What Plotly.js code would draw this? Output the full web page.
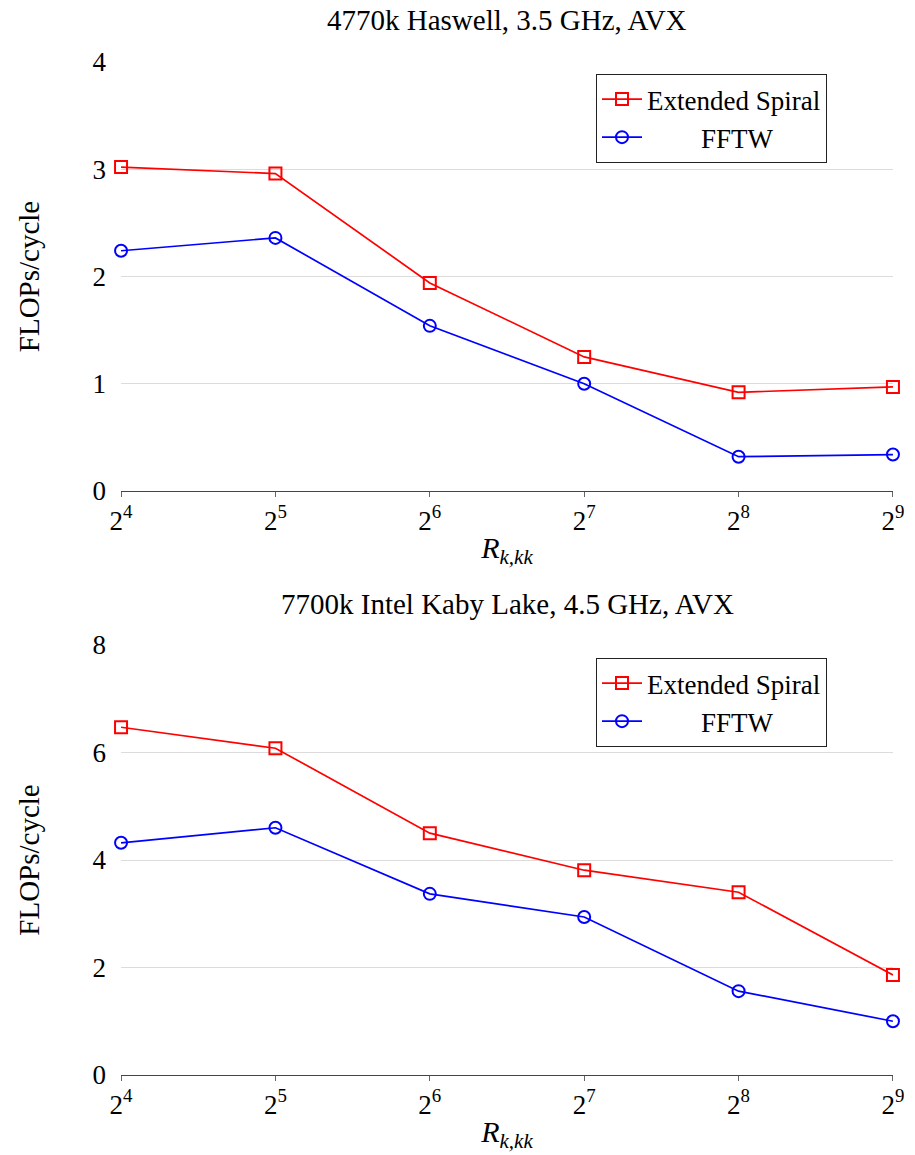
<!DOCTYPE html>
<html>
<head>
<meta charset="utf-8">
<script src="https://cdn.plot.ly/plotly-3.0.1.min.js"></script>
<style>html,body{margin:0;padding:0;background:#fff;}#chart{width:915px;height:1155px;}</style>
</head>
<body>
<div id="chart"></div>
<script>
const sizes = [16, 32, 64, 128, 256, 512];
const tickLabels = ["2<sup>4</sup>", "2<sup>5</sup>", "2<sup>6</sup>", "2<sup>7</sup>", "2<sup>8</sup>", "2<sup>9</sup>"];
const haswellSpiral = [3.02, 2.96, 1.94, 1.25, 0.92, 0.97];
const haswellFFTW = [2.24, 2.36, 1.54, 1.00, 0.32, 0.34];
const kabySpiral = [6.47, 6.08, 4.50, 3.81, 3.40, 1.86];
const kabyFFTW = [4.32, 4.60, 3.37, 2.94, 1.56, 1.00];
const titles = ["4770k Haswell, 3.5 GHz, AVX", "7700k Intel Kaby Lake, 4.5 GHz, AVX"];
const seriesNames = ["Extended Spiral", "FFTW"];

const FONT = '"Liberation Serif", "DejaVu Serif", serif';
const W = 915, H = 1155;
const px = v => v / W, py = v => 1 - v / H;
const pad = '\u00a0'.repeat(8);

function tr(y, name, color, symbol, xa, ya, leg) {
  return {
    x: sizes, y: y, name: name, type: 'scatter', mode: 'lines+markers',
    xaxis: xa, yaxis: ya, legend: leg, cliponaxis: false,
    line: {color: color, width: 1.7},
    marker: {symbol: symbol, size: 12, color: color, line: {color: color, width: 2}}
  };
}

const data = [
  tr(haswellSpiral, seriesNames[0], '#ff0000', 'square-open', 'x', 'y', 'legend'),
  tr(haswellFFTW, pad + seriesNames[1], '#0000ff', 'circle-open', 'x', 'y', 'legend'),
  tr(kabySpiral, seriesNames[0], '#ff0000', 'square-open', 'x2', 'y2', 'legend2'),
  tr(kabyFFTW, pad + seriesNames[1], '#0000ff', 'circle-open', 'x2', 'y2', 'legend2')
];

const lo = Math.log10(16), hi = Math.log10(512);
function xaxis(anchor) {
  return {
    type: 'log', range: [lo - 1e-4, hi + 1e-4],
    domain: [px(121), px(893)], anchor: anchor,
    tickvals: sizes, ticktext: tickLabels,
    showgrid: false, zeroline: false,
    showline: true, linecolor: '#444', linewidth: 1.2,
    ticks: 'outside', ticklen: 5, tickcolor: '#666', tickwidth: 1,
    tickfont: {family: FONT, size: 27, color: '#000'},
    title: {text: '<i>R</i><sub><i>k,kk</i></sub>', font: {family: FONT, size: 30, color: '#000'}, standoff: 2}
  };
}
function yaxis(range, dtick, dom, anchor) {
  return {
    range: range, dtick: dtick, domain: dom, anchor: anchor,
    showgrid: true, gridcolor: '#dcdcdc', gridwidth: 1,
    zeroline: false, showline: false, ticks: '',
    ticklabelstandoff: 14,
    tickfont: {family: FONT, size: 27, color: '#000'},
    title: {text: 'FLOPs/cycle', font: {family: FONT, size: 29, color: '#000'}, standoff: 44}
  };
}

const legendStyle = (top) => ({
  x: px(596), y: py(top), xanchor: 'left', yanchor: 'top',
  bordercolor: '#222', borderwidth: 1, bgcolor: '#fff',
  font: {family: FONT, size: 27, color: '#000'},
  tracegroupgap: 0, itemwidth: 40,
  entrywidth: 230, entrywidthmode: 'pixels'
});

const layout = {
  width: W, height: H,
  font: {family: FONT},
  margin: {l: 0, r: 0, t: 0, b: 0},
  paper_bgcolor: '#fff', plot_bgcolor: '#fff',
  showlegend: true,
  xaxis: xaxis('y'),
  yaxis: yaxis([0, 4], 1, [py(491), py(62)], 'x'),
  xaxis2: xaxis('y2'),
  yaxis2: yaxis([0, 8], 2, [py(1075), py(645)], 'x2'),
  legend: legendStyle(74),
  legend2: legendStyle(658),
  annotations: [
    {text: titles[0], xref: 'paper', yref: 'paper', x: px(507), y: py(20), xanchor: 'center', yanchor: 'middle', showarrow: false, font: {family: FONT, size: 29, color: '#000'}},
    {text: titles[1], xref: 'paper', yref: 'paper', x: px(507), y: py(604), xanchor: 'center', yanchor: 'middle', showarrow: false, font: {family: FONT, size: 29, color: '#000'}}
  ]
};

Plotly.newPlot('chart', data, layout, {displayModeBar: false, staticPlot: true});
</script>
</body>
</html>
